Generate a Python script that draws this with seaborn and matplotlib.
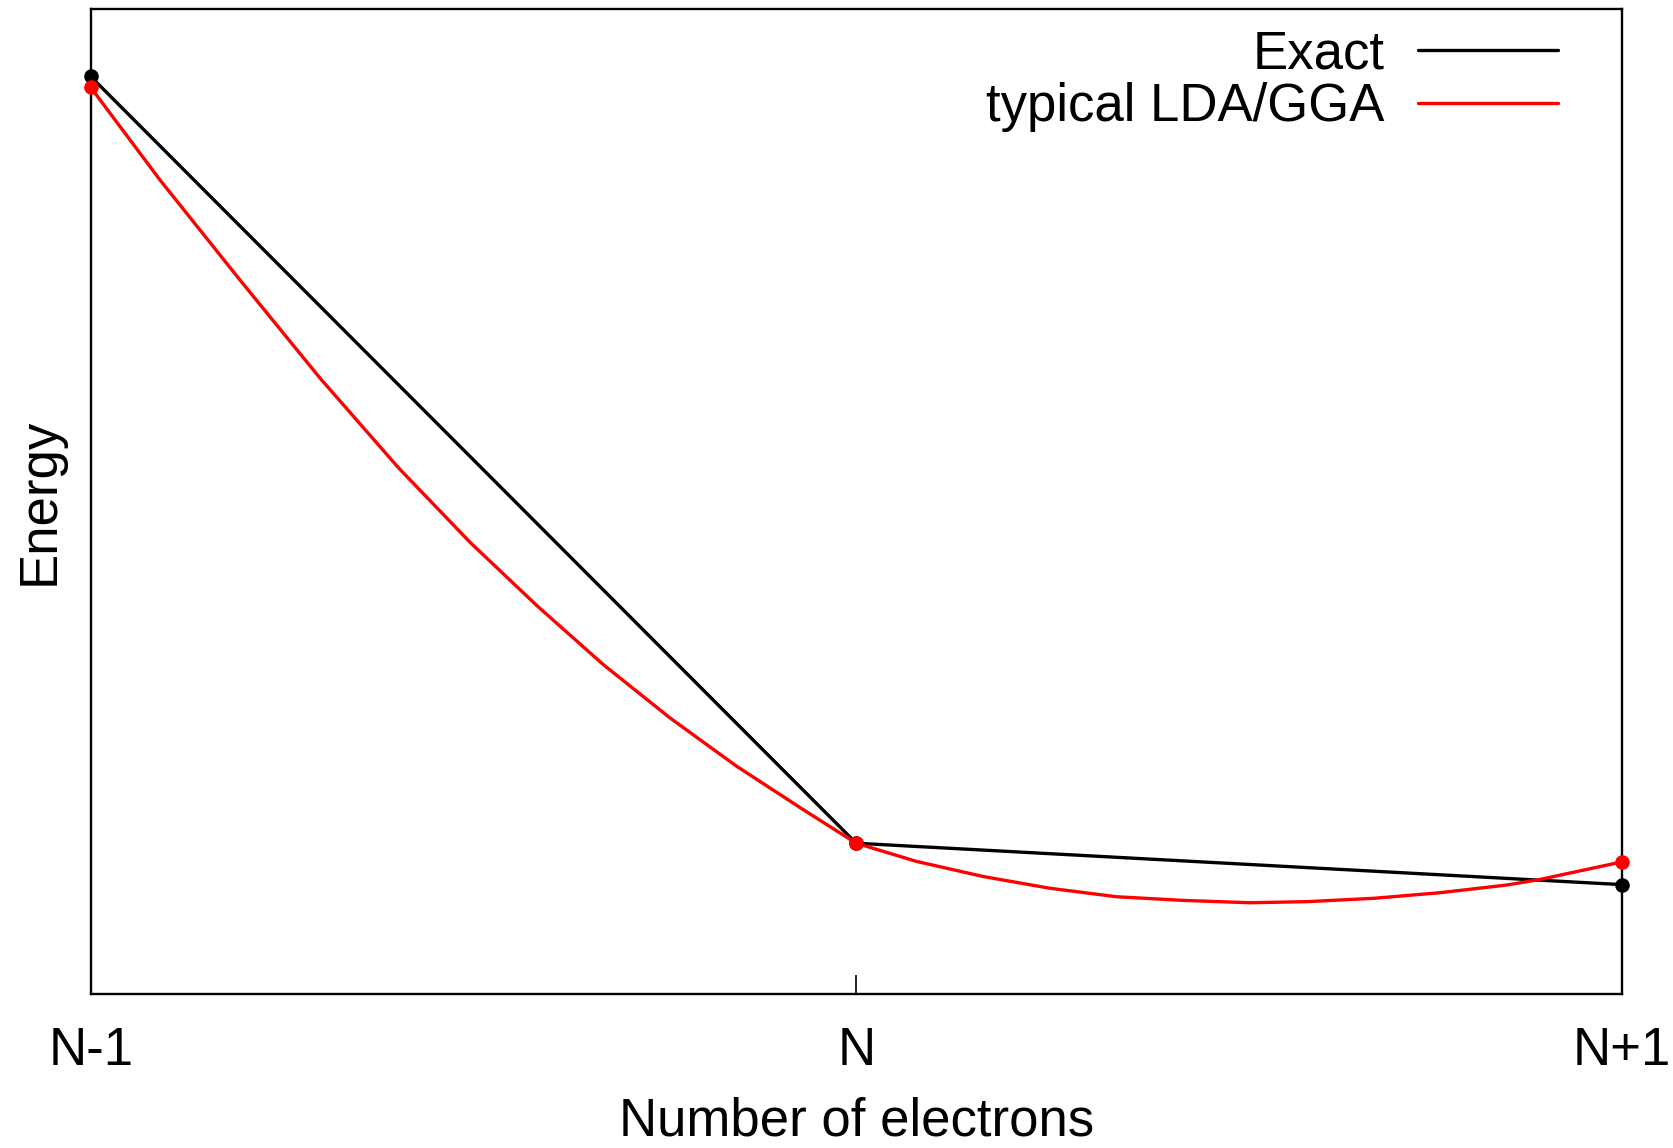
import matplotlib
matplotlib.use("Agg")
import matplotlib.pyplot as plt
import seaborn as sns

# ---- data ----
node_x = [0, 1, 2]
tick_labels = ["N-1", "N", "N+1"]
exact_energy = [0.931, 0.153, 0.111]
lda_node_energy = [0.920, 0.153, 0.134]

lda_x = [0.000, 0.0905, 0.195, 0.2995, 0.402, 0.496, 0.583, 0.670, 0.757, 0.844,
         0.931, 1.000,
         1.079, 1.166, 1.253, 1.340, 1.427, 1.514, 1.589, 1.676, 1.763, 1.850,
         1.893, 2.000]
lda_energy = [0.920, 0.826, 0.7245, 0.625, 0.534, 0.458, 0.394, 0.334, 0.280, 0.231,
              0.187, 0.153,
              0.1345, 0.1192, 0.1073, 0.0987, 0.0950, 0.0926, 0.0937, 0.0971, 0.1028,
              0.1106, 0.1162, 0.134]

series_labels = ["Exact", "typical LDA/GGA"]
x_label = "Number of electrons"
y_label = "Energy"

sns.set_theme(style="white")
plt.rcParams["font.family"] = ["Liberation Sans", "DejaVu Sans"]

W, H = 1674, 1148
fig = plt.figure(figsize=(W / 100, H / 100), dpi=100)
ax = fig.add_axes([90.7 / W, 1 - 994 / H, (1621.7 - 90.7) / W, (994 - 8.5) / H])

fs = 38
lw = 2.4

sns.lineplot(x=node_x, y=exact_energy, color="black", lw=lw, ax=ax,
             sort=False, estimator=None, label=series_labels[0])
sns.lineplot(x=lda_x, y=lda_energy, color="#ff0000", lw=lw, ax=ax,
             sort=False, estimator=None, label=series_labels[1])
for ln in ax.get_lines():
    ln.set_solid_joinstyle("round")
sns.scatterplot(x=node_x, y=exact_energy, color="black", s=110, ax=ax,
                linewidth=0, zorder=5, clip_on=False, legend=False)
sns.scatterplot(x=node_x, y=lda_node_energy, color="#ff0000", s=110, ax=ax,
                linewidth=0, zorder=6, clip_on=False, legend=False)

ax.set_xlim(0, 2)
ax.set_ylim(0, 1)
ax.set_xticks(node_x)
ax.set_xticklabels(tick_labels)
ax.set_yticks([])
ax.tick_params(axis="x", direction="in", length=14, width=1.2, color="black",
               labelsize=fs, pad=22.7, bottom=True, labelcolor="black")
for sp in ax.spines.values():
    sp.set_color("black")
    sp.set_linewidth(1.7)
    sp.set_visible(True)

ax.set_xlabel(x_label, fontsize=fs, color="black", labelpad=15)
ax.set_ylabel(y_label, fontsize=fs, color="black", labelpad=19)

leg = ax.legend(loc="upper right", bbox_to_anchor=(0.9584, 0.979), frameon=False,
                markerfirst=False, fontsize=fs, handlelength=2.65, handletextpad=0.64,
                borderpad=0.0, borderaxespad=0.0, labelspacing=0.06)
for t in leg.get_texts():
    t.set_color("black")

fig.savefig("out.png", dpi=100, facecolor="white")
